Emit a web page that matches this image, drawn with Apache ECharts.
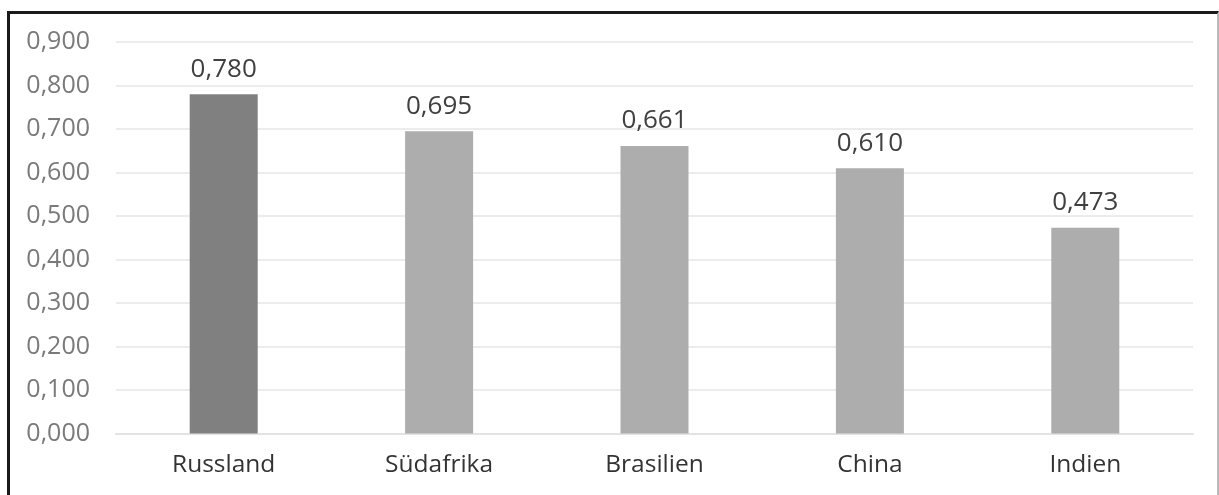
<!DOCTYPE html>
<html>
<head>
<meta charset="utf-8">
<script src="https://cdn.jsdelivr.net/npm/echarts@6/dist/echarts.min.js"></script>
<style>
  html, body { margin: 0; padding: 0; background: #fff; }
  #chart { position: absolute; left: 0; top: 0; width: 1219px; height: 495px; }
  #frame {
    position: absolute; left: 7px; top: 11px; width: 1207px; height: 484px;
    border-top: 3px solid #1a1a1a; border-left: 3px solid #1a1a1a;
    border-right: 2px solid #b8b8b8; pointer-events: none;
  }
</style>
</head>
<body>
<div id="chart"></div>
<div id="frame"></div>
<script>
const categories = ['Russland', 'Südafrika', 'Brasilien', 'China', 'Indien'];
const values = [0.780, 0.695, 0.661, 0.610, 0.473];
const barColors = ['#808080', '#adadad', '#adadad', '#adadad', '#adadad'];
const yMin = 0, yMax = 0.9, yStep = 0.1;

const fmt = v => v.toFixed(3).replace('.', ',');

const chart = echarts.init(document.getElementById('chart'), null, { renderer: 'canvas' });
chart.setOption({
  animation: false,
  grid: { left: 116, right: 26, top: 42, bottom: 61.5 },
  xAxis: {
    type: 'category',
    data: categories,
    axisLine: { show: true, lineStyle: { color: '#e3e3e3', width: 2 } },
    axisTick: { show: false },
    axisLabel: { color: '#333333', fontSize: 24.5, fontFamily: 'Open Sans', margin: 19 }
  },
  yAxis: {
    type: 'value',
    min: yMin, max: yMax, interval: yStep,
    axisLine: { show: false },
    axisTick: { show: false },
    splitLine: { lineStyle: { color: '#ececec', width: 2 } },
    axisLabel: { color: '#7a7a7a', fontSize: 25, fontFamily: 'Open Sans', margin: 26, formatter: v => fmt(v) }
  },
  series: [{
    type: 'bar',
    barWidth: 68,
    data: values.map((v, i) => ({ value: v, itemStyle: { color: barColors[i] } })),
    label: {
      show: true, position: 'top', distance: 12,
      color: '#404040', fontSize: 26, fontFamily: 'Open Sans',
      formatter: p => fmt(p.value)
    }
  }]
});
</script>
</body>
</html>
